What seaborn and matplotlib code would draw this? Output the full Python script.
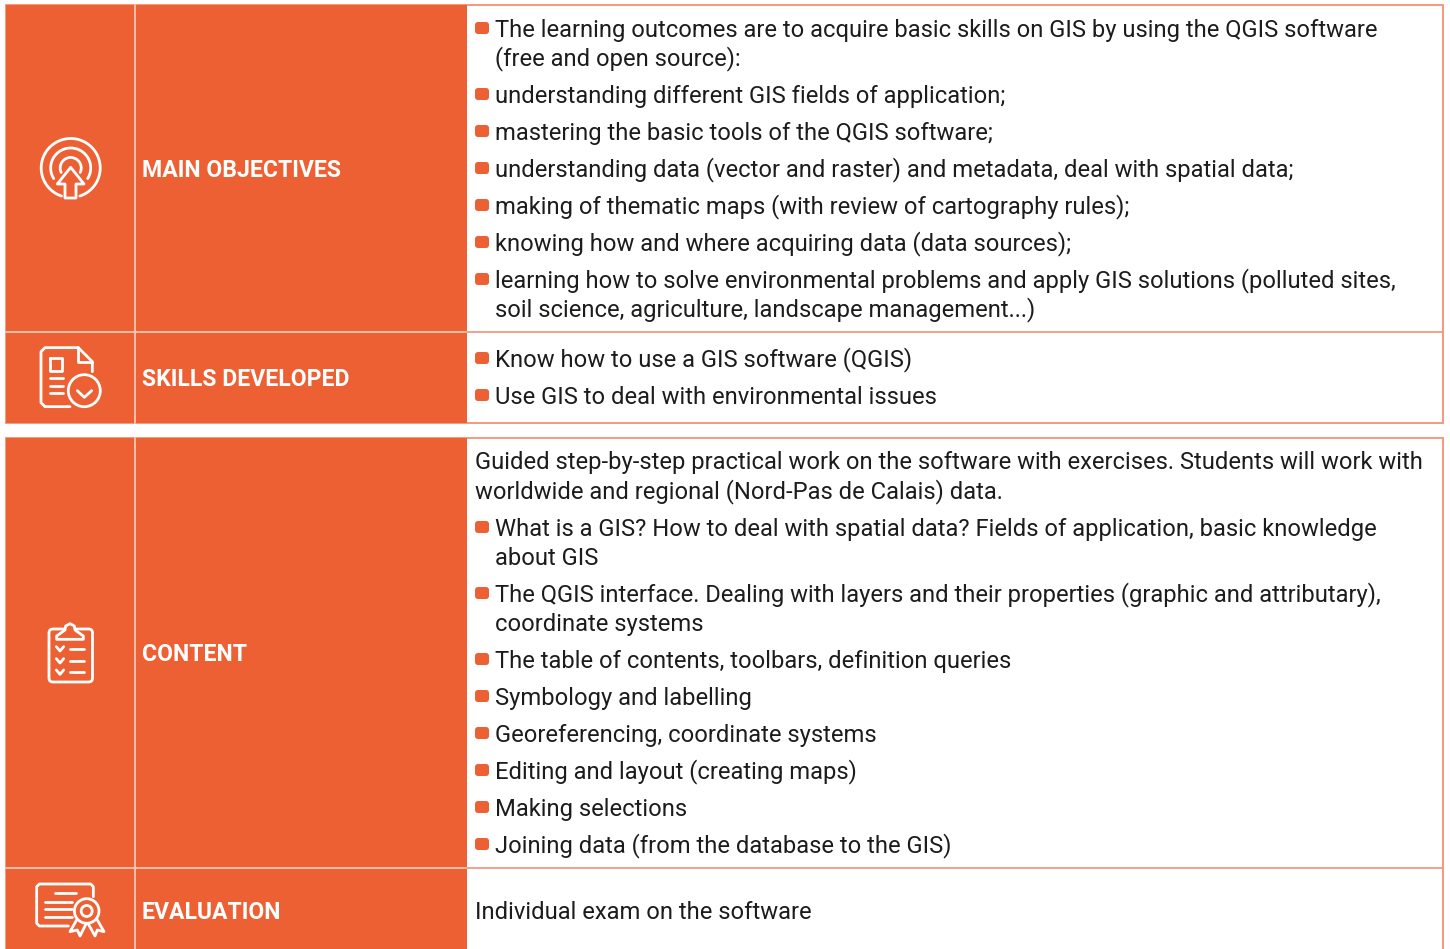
import numpy as np
import matplotlib
matplotlib.use("Agg")
import matplotlib.pyplot as plt
from matplotlib.patches import Rectangle, FancyBboxPatch, Circle, Polygon
import seaborn as sns

sections = ["MAIN OBJECTIVES", "SKILLS DEVELOPED", "CONTENT", "EVALUATION"]
section_centres = [169, 378, 653, 911]

objective_lines = [
    (29, True, "The learning outcomes are to acquire basic skills on GIS by using the QGIS software"),
    (58, False, "(free and open source):"),
    (95, True, "understanding different GIS fields of application;"),
    (132, True, "mastering the basic tools of the QGIS software;"),
    (169, True, "understanding data (vector and raster) and metadata, deal with spatial data;"),
    (206, True, "making of thematic maps (with review of cartography rules);"),
    (243, True, "knowing how and where acquiring data (data sources);"),
    (280, True, "learning how to solve environmental problems and apply GIS solutions (polluted sites,"),
    (309, False, "soil science, agriculture, landscape management...)"),
]
skill_lines = [
    (359, True, "Know how to use a GIS software (QGIS)"),
    (396, True, "Use GIS to deal with environmental issues"),
]
content_intro = [
    (461, "Guided step-by-step practical work on the software with exercises. Students will work with"),
    (491, "worldwide and regional (Nord-Pas de Calais) data."),
]
content_lines = [
    (528, True, "What is a GIS? How to deal with spatial data? Fields of application, basic knowledge"),
    (557, False, "about GIS"),
    (594, True, "The QGIS interface. Dealing with layers and their properties (graphic and attributary),"),
    (623, False, "coordinate systems"),
    (660, True, "The table of contents, toolbars, definition queries"),
    (697, True, "Symbology and labelling"),
    (734, True, "Georeferencing, coordinate systems"),
    (771, True, "Editing and layout (creating maps)"),
    (808, True, "Making selections"),
    (845, True, "Joining data (from the database to the GIS)"),
]
evaluation_text = "Individual exam on the software"

ORANGE = "#ED6033"
EDGE = "#F39A7C"
DIV = "#F9C6B2"
INK = "#1C1C1C"

sns.set_theme(style="white")
plt.rcParams["font.family"] = ["Roboto", "DejaVu Sans"]

fig = plt.figure(figsize=(14.5, 9.49), dpi=100)
ax = fig.add_axes([0, 0, 1, 1])
ax.set_xlim(0, 1450)
ax.set_ylim(949, 0)
ax.axis("off")

for top, bottom in [(5, 423), (438, 950)]:
    ax.add_patch(Rectangle((6, top), 1437, bottom - top, fc="white", ec=EDGE, lw=1.4, zorder=1))
    ax.add_patch(Rectangle((6.5, top), 460.5, bottom - top, fc=ORANGE, ec="none", zorder=2))
    ax.plot([135, 135], [top, bottom], color=DIV, lw=1.3, zorder=3)
for y in (332, 868):
    ax.plot([6.5, 467], [y, y], color=DIV, lw=1.3, zorder=3)
    ax.plot([467, 1443], [y, y], color=EDGE, lw=1.3, zorder=3)

BODY = 17.1
for name, cy in zip(sections, section_centres):
    ax.text(142, cy + 8, name, color="white", fontsize=16.6, fontweight="bold", va="baseline", zorder=5)


def body_line(cy, text, bullet=False, x=495.5):
    ax.text(x, cy + 7.8, text, color=INK, fontsize=BODY, va="baseline", zorder=5)
    if bullet:
        ax.add_patch(FancyBboxPatch((477, cy - 5), 10, 8, boxstyle="round,pad=2,rounding_size=3",
                                    fc=ORANGE, ec="none", zorder=5))


for cy, b, t in objective_lines + skill_lines + content_lines:
    body_line(cy, t, b)
for cy, t in content_intro:
    body_line(cy, t, x=475)
body_line(911, evaluation_text, x=475)

LW = 2.0


def stroke(xs, ys, lw=LW, z=6):
    ax.plot(xs, ys, color="white", lw=lw, solid_capstyle="round", solid_joinstyle="round", zorder=z)


def zoomed(points, ox, oy):
    p = np.array(points, dtype=float)
    return ox + p[:, 0] / 3, oy + p[:, 1] / 3


def arc(cx, cy, r, gap):
    a = np.radians(np.linspace(gap, 360 - gap, 120))
    stroke(cx + r * np.sin(a), cy + r * np.cos(a))


# target icon
arc(70.7, 168, 29.5, 18)
arc(70.7, 168, 20, 58)
arc(70.7, 168, 10.5, 65)
x, y = zoomed([(212, 142), (172, 192), (195, 192), (195, 234), (228, 234), (228, 192), (252, 192), (212, 142)], 0, 120)
ax.add_patch(Polygon(np.c_[x, y], closed=True, fc=ORANGE, ec="white", lw=LW, joinstyle="round", zorder=6))

# document icon
x, y = zoomed([(235, 68), (135, 68), (123, 80), (123, 233), (135, 245), (210, 245)], 0, 325)
stroke(x, y)
x, y = zoomed([(235, 68), (277, 110), (277, 140)], 0, 325)
stroke(x, y)
x, y = zoomed([(235, 68), (235, 110), (277, 110)], 0, 325)
stroke(x, y)
x, y = zoomed([(150, 98), (187, 98), (187, 138), (150, 138), (150, 98)], 0, 325)
stroke(x, y)
for zy, zx in [(160, 190), (182, 190), (205, 190)]:
    x, y = zoomed([(150, zy), (zx, zy)], 0, 325)
    stroke(x, y)
ax.add_patch(Circle((84.3, 390.7), 16, fc=ORANGE, ec="white", lw=LW, zorder=6))
x, y = zoomed([(232, 197), (253, 217), (275, 197)], 0, 325)
stroke(x, y, z=7)

# checklist icon
ax.add_patch(FancyBboxPatch((51, 631), 39.5, 49, boxstyle="round,pad=2,rounding_size=4",
                            fc=ORANGE, ec="white", lw=LW, zorder=6))
x, y = zoomed([(110, 88), (110, 78), (135, 60), (137, 48), (150, 41), (163, 48), (165, 60), (190, 78), (190, 88), (110, 88)], 20, 610)
ax.add_patch(Polygon(np.c_[x, y], closed=True, fc=ORANGE, ec="white", lw=LW, joinstyle="round", zorder=7))
for zy in (110, 146, 180):
    x, y = zoomed([(109, zy), (120, zy + 13), (131, zy)], 20, 610)
    stroke(x, y, z=7)
    x, y = zoomed([(151, zy + 6), (191, zy + 6)], 20, 610)
    stroke(x, y, z=7)

# certificate icon
x, y = zoomed([(280, 110), (280, 80), (272, 72), (118, 72), (110, 80), (110, 190), (118, 198), (205, 198)], 0, 860)
stroke(x, y)
for pts in ([(165, 98), (228, 98)], [(135, 125), (215, 125)], [(135, 147), (215, 147)], [(135, 170), (215, 170)]):
    x, y = zoomed(pts, 0, 860)
    stroke(x, y)
for pts in ([(230, 180), (210, 215), (232, 210), (240, 228), (258, 192)],
            [(265, 192), (285, 228), (292, 210), (312, 215), (292, 180)]):
    x, y = zoomed(pts, 0, 860)
    stroke(x, y)
ax.add_patch(Circle((86.7, 911), 12.3, fc=ORANGE, ec="white", lw=LW, zorder=7))
ax.add_patch(Circle((86.7, 911), 5.5, fc=ORANGE, ec="white", lw=LW, zorder=8))

fig.savefig("out.png", dpi=100, facecolor="white")
